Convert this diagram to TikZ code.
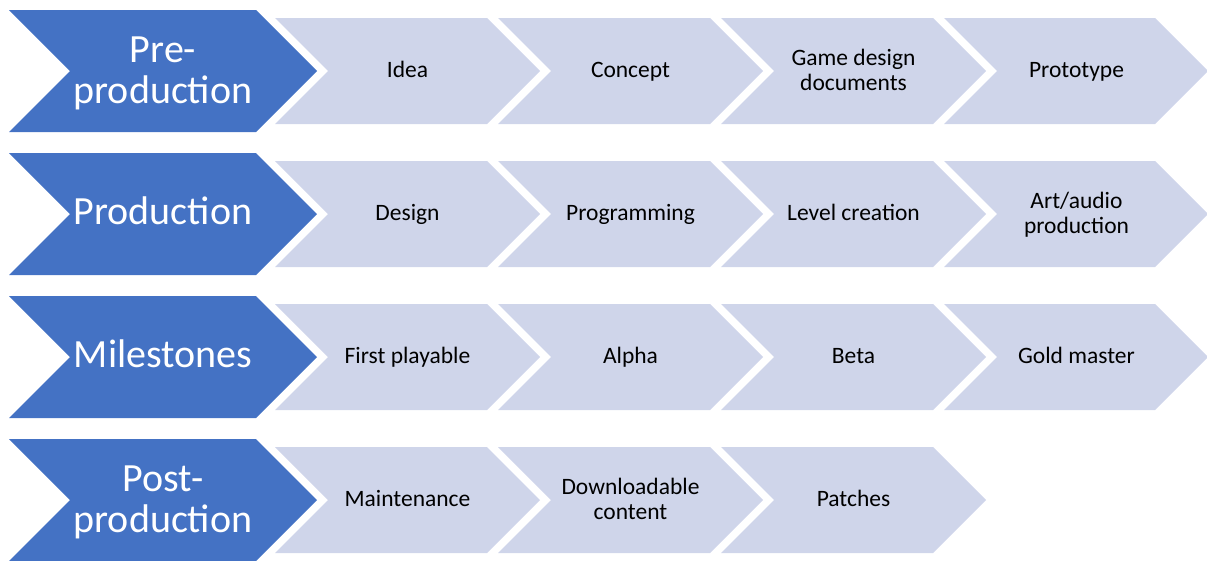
\documentclass[tikz,border=0pt]{standalone}
\usepackage{fontspec}
\setmainfont{Carlito}
\definecolor{bigblue}{HTML}{4472C4}
\definecolor{lightblue}{HTML}{CFD5EA}
\newcommand{\mychev}[5]{\fill[#5] (#1,#2) -- ++(#3,0) -- ++(#4/2,#4/2) -- ++(-#4/2,#4/2) -- ++(-#3,0) -- ++(#4/2,-#4/2) -- cycle;}
\tikzset{
  bigtxt/.style={text=white, font=\fontsize{40}{41}\selectfont, align=center, inner sep=0pt, anchor=base},
  smalltxt/.style={text=black, font=\fontsize{23.5}{25}\selectfont, align=center, inner sep=0pt, anchor=base}
}
\begin{document}
\begin{tikzpicture}[x=1pt,y=-1pt]
\useasboundingbox (0,0) rectangle (1207,560);
% row 1 (centre 71)
\mychev{9}{10}{247}{122}{bigblue}
\mychev{275}{18}{212}{106}{lightblue}
\mychev{498}{18}{212}{106}{lightblue}
\mychev{721}{18}{212}{106}{lightblue}
\mychev{944}{18}{211}{106}{lightblue}
\node[bigtxt] (pre) at (163,103) {Pre-\\production};
\node[smalltxt] (idea) at (407.5,77.5) {Idea};
\node[smalltxt] (concept) at (630.5,77.5) {Concept};
\node[smalltxt] (gdd) at (853.5,90) {Game design\\documents};
\node[smalltxt] (proto) at (1076.5,77.5) {Prototype};
% row 2 (centre 214)
\mychev{9}{153}{247}{122}{bigblue}
\mychev{275}{161}{212}{106}{lightblue}
\mychev{498}{161}{212}{106}{lightblue}
\mychev{721}{161}{212}{106}{lightblue}
\mychev{944}{161}{211}{106}{lightblue}
\node[bigtxt] (prod) at (163,224) {Production};
\node[smalltxt] (design) at (407.5,220) {Design};
\node[smalltxt] (prog) at (630.5,220) {Programming};
\node[smalltxt] (level) at (853.5,220) {Level creation};
\node[smalltxt] (art) at (1076.5,233) {Art/audio\\production};
% row 3 (centre 357)
\mychev{9}{296}{247}{122}{bigblue}
\mychev{275}{304}{212}{106}{lightblue}
\mychev{498}{304}{212}{106}{lightblue}
\mychev{721}{304}{212}{106}{lightblue}
\mychev{944}{304}{211}{106}{lightblue}
\node[bigtxt] (mile) at (163,367) {Milestones};
\node[smalltxt] (first) at (407.5,363) {First playable};
\node[smalltxt] (alpha) at (630.5,363) {Alpha};
\node[smalltxt] (beta) at (853.5,363) {Beta};
\node[smalltxt] (gold) at (1076.5,363) {Gold master};
% row 4 (centre 500)
\mychev{9}{439}{247}{122}{bigblue}
\mychev{275}{447}{212}{106}{lightblue}
\mychev{498}{447}{212}{106}{lightblue}
\mychev{721}{447}{212}{106}{lightblue}
\node[bigtxt] (post) at (163,532) {Post-\\production};
\node[smalltxt] (maint) at (407.5,506) {Maintenance};
\node[smalltxt] (dlc) at (630.5,519) {Downloadable\\content};
\node[smalltxt] (patch) at (853.5,506) {Patches};
\end{tikzpicture}
\end{document}
